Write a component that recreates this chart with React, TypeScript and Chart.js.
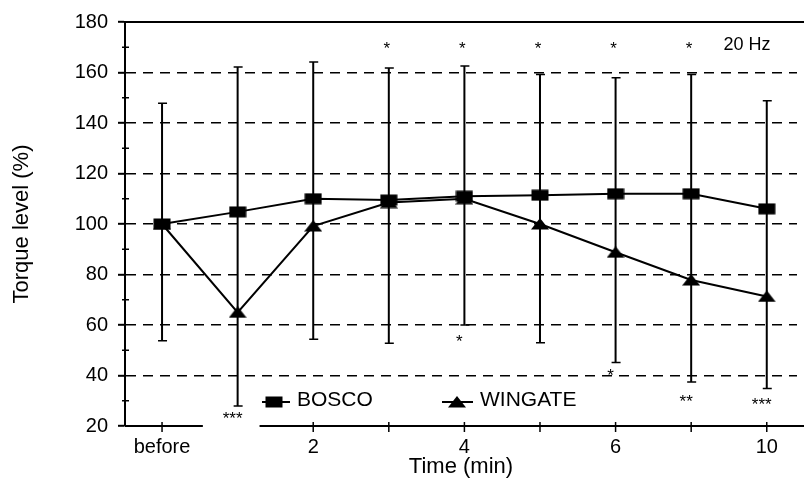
import React, { useEffect, useRef } from "react";
import { Chart, registerables } from "chart.js";

Chart.register(...registerables);

// ---- data ----
const timePoints = [0, 1, 2, 3, 4, 5, 6, 7, 8];
const tickLabels = ["before", "", "2", "", "4", "", "6", "", "10"];
const seriesNames = ["BOSCO", "WINGATE"];
const bosco = [100, 104.8, 110, 109.5, 111, 111.4, 112, 112, 106];
const wingate = [100, 65, 99.2, 108.5, 110, 100, 88.8, 77.8, 71.3];
const errorHigh = [147.8, 162.2, 164.2, 161.8, 162.6, 159.2, 157.9, 159.2, 148.8];
const errorLow = [53.8, 27.9, 54.4, 52.8, 60, 53, 45.1, 37.4, 34.9];
const yTicks = [20, 40, 60, 80, 100, 120, 140, 160, 180];
const yMinorTicks = [30, 50, 70, 90, 110, 130, 150, 170];
const sigTopIdx = [3, 4, 5, 6, 7];
const sigTopValue = 171.3;
const sigBottomIdx = [1, 4, 6, 7, 8];
const sigBottomText = ["***", "*", "*", "**", "***"];
const sigBottomValue = [24.7, 55.3, 41.6, 31.4, 30.2];
const freqLabel = "20 Hz";
const freqPos = [7.74, 170.8];
const axisGap = [0.54, 1.29];

const FONT = "'Liberation Sans', Arial, Helvetica, sans-serif";

function makeMarker(kind: string): HTMLCanvasElement {
  const c = document.createElement("canvas");
  c.width = 18;
  c.height = 12;
  const g = c.getContext("2d") as CanvasRenderingContext2D;
  g.fillStyle = "#000";
  if (kind === "rect") {
    g.fillRect(0.5, 0.5, 17, 11);
  } else {
    g.beginPath();
    g.moveTo(9, 0);
    g.lineTo(18, 11.5);
    g.lineTo(0, 11.5);
    g.closePath();
    g.fill();
  }
  return c;
}

export default function App() {
  const ref = useRef<HTMLCanvasElement | null>(null);

  useEffect(() => {
    document.body.style.margin = "0";
    const canvas = ref.current;
    if (!canvas) return;
    const square = makeMarker("rect");
    const triangle = makeMarker("tri");

    const decorations = {
      id: "decorations",
      beforeDatasetsDraw(chart: any) {
        const { ctx, scales } = chart;
        const x = scales.x, y = scales.y;
        ctx.save();
        ctx.strokeStyle = "#000";
        timePoints.forEach((t, i) => {
          const px = x.getPixelForValue(t);
          const top = y.getPixelForValue(errorHigh[i]);
          const bot = y.getPixelForValue(errorLow[i]);
          ctx.lineWidth = 2;
          ctx.beginPath();
          ctx.moveTo(px, top);
          ctx.lineTo(px, bot);
          ctx.stroke();
          ctx.lineWidth = 1.5;
          ctx.beginPath();
          ctx.moveTo(px - 4, top);
          ctx.lineTo(px + 5, top);
          ctx.moveTo(px - 4, bot);
          ctx.lineTo(px + 5, bot);
          ctx.stroke();
        });
        ctx.restore();
      },
      afterDraw(chart: any) {
        const { ctx, chartArea: a, scales } = chart;
        const x = scales.x, y = scales.y;
        ctx.save();
        ctx.strokeStyle = "#000";
        ctx.fillStyle = "#000";
        ctx.lineWidth = 2;
        // top frame line
        ctx.beginPath();
        ctx.moveTo(a.left, a.top);
        ctx.lineTo(chart.width, a.top);
        ctx.stroke();
        // x axis line with gap
        const gL = x.getPixelForValue(axisGap[0]);
        const gR = x.getPixelForValue(axisGap[1]);
        ctx.beginPath();
        ctx.moveTo(a.left, a.bottom);
        ctx.lineTo(gL, a.bottom);
        ctx.moveTo(gR, a.bottom);
        ctx.lineTo(chart.width, a.bottom);
        ctx.stroke();
        // x ticks
        ctx.lineWidth = 1.5;
        timePoints.forEach((t) => {
          if (t > axisGap[0] && t < axisGap[1]) return;
          const px = x.getPixelForValue(t);
          ctx.beginPath();
          ctx.moveTo(px, a.bottom - 4);
          ctx.lineTo(px, a.bottom + 6);
          ctx.stroke();
        });
        // minor y ticks
        yMinorTicks.forEach((v) => {
          const py = y.getPixelForValue(v);
          ctx.beginPath();
          ctx.moveTo(a.left - 3, py);
          ctx.lineTo(a.left + 4, py);
          ctx.stroke();
        });
        // significance marks
        const starSize = 17;
        ctx.font = `${starSize}px ${FONT}`;
        ctx.textAlign = "center";
        ctx.textBaseline = "alphabetic";
        sigTopIdx.forEach((i) => {
          const px = x.getPixelForValue(timePoints[i]) - 2;
          const py = y.getPixelForValue(sigTopValue) + 0.57 * starSize;
          ctx.fillText("*", px, py);
        });
        sigBottomIdx.forEach((i, k) => {
          const px = x.getPixelForValue(timePoints[i]) - 5;
          const py = y.getPixelForValue(sigBottomValue[k]) + 0.57 * starSize;
          ctx.fillText(sigBottomText[k], px, py);
        });
        // frequency label
        ctx.font = `18px ${FONT}`;
        ctx.textBaseline = "middle";
        ctx.fillText(freqLabel, x.getPixelForValue(freqPos[0]), y.getPixelForValue(freqPos[1]));
        // legend
        const ly = a.bottom - 24;
        const items = [
          { m: square, l0: 137, l1: 165, mx: 149, tx: 172 },
          { m: triangle, l0: 317, l1: 348, mx: 332, tx: 355 },
        ];
        ctx.font = `21px ${FONT}`;
        ctx.textAlign = "left";
        items.forEach((it, k) => {
          ctx.lineWidth = 2;
          ctx.beginPath();
          ctx.moveTo(a.left + it.l0, ly);
          ctx.lineTo(a.left + it.l1, ly);
          ctx.stroke();
          ctx.drawImage(it.m, a.left + it.mx - it.m.width / 2, ly - it.m.height / 2);
          ctx.fillText(chart.data.datasets[k].label, a.left + it.tx, ly - 2);
        });
        ctx.restore();
      },
    };

    const chart = new Chart(canvas, {
      type: "line",
      data: {
        datasets: [
          {
            label: seriesNames[0],
            data: timePoints.map((t, i) => ({ x: t, y: bosco[i] })),
            borderColor: "#000",
            borderWidth: 2,
            pointStyle: square as any,
            pointRadius: 5,
            tension: 0,
          },
          {
            label: seriesNames[1],
            data: timePoints.map((t, i) => ({ x: t, y: wingate[i] })),
            borderColor: "#000",
            borderWidth: 2,
            pointStyle: triangle as any,
            pointRadius: 5,
            tension: 0,
          },
        ],
      },
      options: {
        responsive: false,
        animation: false,
        devicePixelRatio: 1,
        layout: { padding: { top: 19, right: 4, left: 0, bottom: 0 } },
        plugins: { legend: { display: false }, tooltip: { enabled: false } },
        scales: {
          x: {
            type: "linear",
            min: -0.49,
            max: 8.4,
            afterBuildTicks: (s: any) => {
              s.ticks = timePoints.map((v) => ({ value: v }));
            },
            afterFit: (s: any) => {
              s.height = 54;
            },
            ticks: {
              autoSkip: false,
              maxRotation: 0,
              padding: 1,
              color: "#000",
              font: { family: FONT, size: 20 },
              callback: (v: any) => tickLabels[v] ?? "",
            },
            grid: { display: false },
            border: { display: false },
            title: {
              display: true,
              text: "Time (min)",
              color: "#000",
              font: { family: FONT, size: 22 },
              padding: { top: 0, bottom: 0 },
            },
          },
          y: {
            type: "linear",
            min: 20,
            max: 180,
            afterBuildTicks: (s: any) => {
              s.ticks = yTicks.map((v) => ({ value: v }));
            },
            afterFit: (s: any) => {
              s.width = 125;
            },
            ticks: {
              padding: 10,
              color: "#000",
              font: { family: FONT, size: 20 },
            },
            grid: {
              color: (c: any) =>
                c.tick && (c.tick.value === 20 || c.tick.value === 180) ? "rgba(0,0,0,0)" : "#000",
              lineWidth: 1.6,
              tickColor: "#000",
              tickWidth: 2,
              tickLength: 7,
              tickBorderDash: [],
            },
            border: { display: true, color: "#000", width: 2, dash: [10, 7] },
            title: {
              display: true,
              text: "Torque level (%)",
              color: "#000",
              font: { family: FONT, size: 22 },
              padding: { top: 9, bottom: 0 },
            },
          },
        },
      } as any,
      plugins: [decorations],
    });
    return () => chart.destroy();
  }, []);

  return (
    <div style={{ position: "absolute", left: 0, top: 0, width: 804, height: 480, background: "#fff" }}>
      <canvas ref={ref} width={804} height={480} style={{ width: 804, height: 480, display: "block" }} />
    </div>
  );
}
